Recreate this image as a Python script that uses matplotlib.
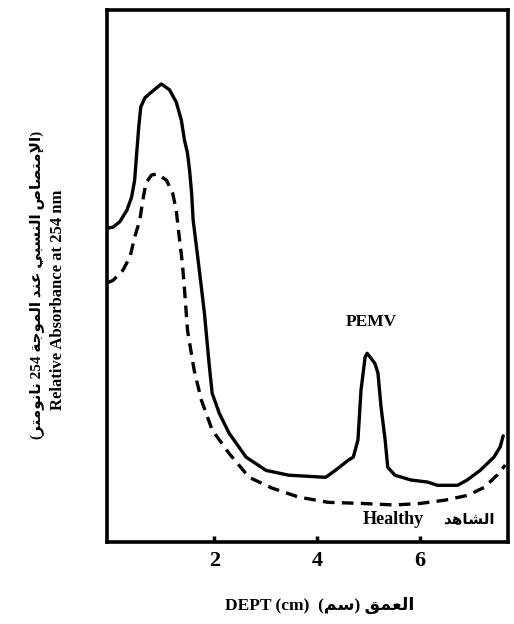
import matplotlib
matplotlib.use('Agg')
import matplotlib.pyplot as plt

# Relative absorbance at 254 nm vs. depth in the gradient tube
depth_pemv = [-0.09, 0.03, 0.16, 0.30, 0.39, 0.45, 0.49, 0.53, 0.57, 0.65, 0.78, 0.97, 1.13, 1.26,
              1.36, 1.42, 1.48, 1.52, 1.56, 1.59, 1.67, 1.75, 1.81, 1.90, 1.96, 2.10, 2.29, 2.62,
              3.01, 3.45, 4.17, 4.36, 4.61, 4.71, 4.80, 4.86, 4.94, 4.98, 5.13, 5.19, 5.25, 5.33,
              5.38, 5.52, 5.83, 6.16, 6.35, 6.74, 6.93, 7.18, 7.45, 7.57, 7.63]
abs_pemv = [5.90, 5.92, 6.02, 6.24, 6.48, 6.80, 7.31, 7.80, 8.18, 8.35, 8.46, 8.61, 8.50, 8.27,
            7.93, 7.56, 7.31, 6.99, 6.56, 6.05, 5.43, 4.79, 4.30, 3.36, 2.80, 2.42, 2.05, 1.60,
            1.35, 1.26, 1.22, 1.35, 1.54, 1.60, 1.92, 2.86, 3.48, 3.55, 3.36, 3.18, 2.54, 1.92,
            1.41, 1.26, 1.17, 1.13, 1.07, 1.07, 1.17, 1.35, 1.60, 1.79, 2.00]

depth_healthy = [-0.09, 0.03, 0.22, 0.36, 0.45, 0.55, 0.61, 0.67, 0.78, 0.90, 1.07, 1.19, 1.26,
                 1.32, 1.38, 1.42, 1.48, 1.61, 1.75, 1.96, 2.29, 2.68, 3.12, 3.64, 4.22, 4.86,
                 5.52, 6.02, 6.49, 6.93, 7.26, 7.51, 7.67]
abs_healthy = [4.87, 4.92, 5.11, 5.36, 5.73, 6.05, 6.43, 6.75, 6.90, 6.92, 6.80, 6.56, 6.24,
               5.73, 5.24, 4.77, 3.98, 3.23, 2.67, 2.11, 1.67, 1.22, 1.02, 0.85, 0.75, 0.73,
               0.70, 0.73, 0.79, 0.88, 1.03, 1.26, 1.45]

x_ticks = [2, 4, 6]

# minimal arabic shaping (matplotlib has no bidi / joining support)
FORMS = {
    'ا': (0xFE8D, 0xFE8E, None, None), 'إ': (0xFE87, 0xFE88, None, None),
    'ب': (0xFE8F, 0xFE90, 0xFE91, 0xFE92), 'ة': (0xFE93, 0xFE94, None, None),
    'ت': (0xFE95, 0xFE96, 0xFE97, 0xFE98), 'ج': (0xFE9D, 0xFE9E, 0xFE9F, 0xFEA0),
    'د': (0xFEA9, 0xFEAA, None, None), 'ر': (0xFEAD, 0xFEAE, None, None),
    'س': (0xFEB1, 0xFEB2, 0xFEB3, 0xFEB4), 'ش': (0xFEB5, 0xFEB6, 0xFEB7, 0xFEB8),
    'ص': (0xFEB9, 0xFEBA, 0xFEBB, 0xFEBC), 'ع': (0xFEC9, 0xFECA, 0xFECB, 0xFECC),
    'ق': (0xFED5, 0xFED6, 0xFED7, 0xFED8), 'ل': (0xFEDD, 0xFEDE, 0xFEDF, 0xFEE0),
    'م': (0xFEE1, 0xFEE2, 0xFEE3, 0xFEE4), 'ن': (0xFEE5, 0xFEE6, 0xFEE7, 0xFEE8),
    'ه': (0xFEE9, 0xFEEA, 0xFEEB, 0xFEEC), 'و': (0xFEED, 0xFEEE, None, None),
    'ي': (0xFEF1, 0xFEF2, 0xFEF3, 0xFEF4),
}
LAM_ALEF = {'ا': (0xFEFB, 0xFEFC), 'إ': (0xFEF9, 0xFEFA)}


def shape(word):
    out = []
    i = 0
    while i < len(word):
        c = word[i]
        prev = word[i - 1] if i > 0 else None
        nxt = word[i + 1] if i + 1 < len(word) else None
        join_prev = prev in FORMS and FORMS[prev][2] is not None
        if c == 'ل' and nxt in LAM_ALEF:
            out.append(chr(LAM_ALEF[nxt][1 if join_prev else 0]))
            i += 2
            continue
        iso, fin, ini, med = FORMS[c]
        join_next = nxt in FORMS and ini is not None
        if join_prev and join_next:
            out.append(chr(med))
        elif join_prev:
            out.append(chr(fin))
        elif join_next:
            out.append(chr(ini))
        else:
            out.append(chr(iso))
        i += 1
    return ''.join(reversed(out))


def rtl(text):
    parts = []
    for tok in reversed(text.split(' ')):
        core = tok.strip('()')
        if core and core[0] in FORMS:
            vis = shape(core)
            if tok.startswith('('):
                vis = vis + ')'
            if tok.endswith(')'):
                vis = '(' + vis
            parts.append(vis)
        else:
            parts.append(tok)
    return ' '.join(parts)


FAM = ['Liberation Serif', 'DejaVu Sans']

fig = plt.figure(figsize=(5.14, 6.24), dpi=100)
ax = fig.add_axes([0.208, 0.131, 0.78, 0.853])

ax.plot(depth_pemv, abs_pemv, color='black', lw=2.4, solid_joinstyle='round', solid_capstyle='round')
ax.plot(depth_healthy, abs_healthy, color='black', lw=2.4, dashes=(3.5, 2.2))

ax.set_xlim(-0.09, 7.72)
ax.set_ylim(0, 10)
ax.set_xticks(x_ticks)
ax.set_xticklabels([str(t) for t in x_ticks], family=FAM, fontweight='bold', fontsize=16)
ax.tick_params(axis='x', direction='in', length=4, width=2.5, pad=6)
ax.set_yticks([])
for s in ax.spines.values():
    s.set_linewidth(2.6)

ax.text(5.06, 4.14, 'PEMV', family=FAM, fontweight='bold', fontsize=12.5, ha='center', va='center')
ax.text(5.48, 0.43, 'Healthy', family=FAM, fontweight='bold', fontsize=13, ha='center', va='center')
ax.text(6.97, 0.43, rtl('الشاهد'), family=FAM, fontweight='bold', fontsize=11, ha='center', va='center')

fig.text(320 / 514, 1 - 605 / 624, 'DEPT (cm)  ' + rtl('العمق (سم)'), family=FAM,
         fontweight='bold', fontsize=12.5, ha='center', va='center')
fig.text(37 / 514, 1 - 285 / 624, rtl('(الإمتصاص النسبي عند الموجة 254 نانومتر)'), family=FAM,
         fontweight='bold', fontsize=11, rotation=90, ha='center', va='center')
fig.text(58 / 514, 1 - 300 / 624, 'Relative Absorbance at 254 nm', family=FAM,
         fontweight='bold', fontsize=12, rotation=90, ha='center', va='center')

fig.savefig('out.png', dpi=100)
